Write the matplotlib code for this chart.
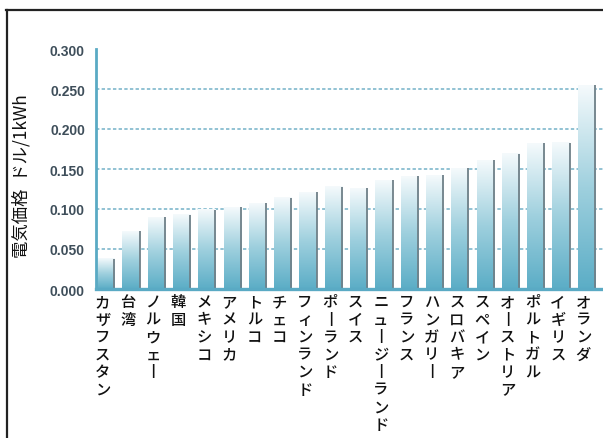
import numpy as np
import matplotlib
matplotlib.use("Agg")
import matplotlib.pyplot as plt
from matplotlib.colors import LinearSegmentedColormap
from matplotlib.lines import Line2D

countries = ["カザフスタン", "台湾", "ノルウェー", "韓国", "メキシコ", "アメリカ", "トルコ",
             "チェコ", "フィンランド", "ポーランド", "スイス", "ニュージーランド", "フランス",
             "ハンガリー", "スロバキア", "スペイン", "オーストリア", "ポルトガル", "イギリス", "オランダ"]
price = [0.038, 0.072, 0.090, 0.093, 0.099, 0.102, 0.107, 0.114, 0.121, 0.128,
         0.126, 0.136, 0.141, 0.142, 0.151, 0.161, 0.169, 0.182, 0.183, 0.255]
yticks = [0.0, 0.05, 0.10, 0.15, 0.20, 0.25, 0.30]

teal = "#5aaac4"
fade = LinearSegmentedColormap.from_list("fade", ["#5badc6", "#9fd0de", "#f5fafc"])
jp = ["Noto Sans CJK JP", "DejaVu Sans"]

fig = plt.figure(figsize=(6.03, 4.39), dpi=100)
ax = fig.add_axes([96 / 603, 149 / 439, 507 / 603, 240 / 439])

# dashed guide lines, drawn under the bars
for v in yticks[1:-1]:
    ax.axhline(v, color="#74b2c8", lw=1.1, ls=(0, (2.2, 1.5)), zorder=0)

# bars: vertical fade from teal at the base to nearly white at the top
grad = np.linspace(0, 1, 256).reshape(-1, 1)
w = 0.34
for i, v in enumerate(price):
    ax.imshow(grad, cmap=fade, aspect="auto", origin="lower",
              extent=(i - w, i + w, 0, v), zorder=2, interpolation="bilinear")
    ax.plot([i + w, i + w], [0, v], color="#6f8088", lw=1.3, zorder=3,
            solid_capstyle="butt")

ax.set_xlim(-0.38, 19.66)
ax.set_ylim(0, 0.3)

for s in ["top", "right"]:
    ax.spines[s].set_visible(False)
ax.spines["left"].set_color(teal)
ax.spines["left"].set_linewidth(2)
ax.spines["bottom"].set_color(teal)
ax.spines["bottom"].set_linewidth(2.4)
ax.spines["left"].set_zorder(5)
ax.spines["bottom"].set_zorder(5)

ax.set_xticks([])
ax.set_yticks(yticks)
ax.set_yticklabels([f"{t:.3f}" for t in yticks], fontsize=10, fontweight="bold",
                   color="#3e4e5a", family="Liberation Sans")
ax.tick_params(axis="y", length=0, pad=8)

# vertical country names under each bar
for i, name in enumerate(countries):
    s = "\n".join(name.replace("ー", "丨"))
    ax.text(i - 0.12, -0.005, s, ha="center", va="top", fontsize=11,
            family=jp, fontweight="medium", linespacing=1.04,
            color="#111111", clip_on=False)

fig.text(21 / 603, 1 - 176 / 439, "電気価格  ドル/1kWh", rotation=90, ha="center", va="center",
         fontsize=12.5, family=jp, color="#111111")

# outer frame (top and left edges)
fig.add_artist(Line2D([6.5 / 603, 6.5 / 603], [0, 1 - 11 / 439], color="#222222", lw=1.6))
fig.add_artist(Line2D([6 / 603, 1], [1 - 11 / 439, 1 - 11 / 439], color="#222222", lw=1.6))

fig.savefig("out.png", dpi=100)
